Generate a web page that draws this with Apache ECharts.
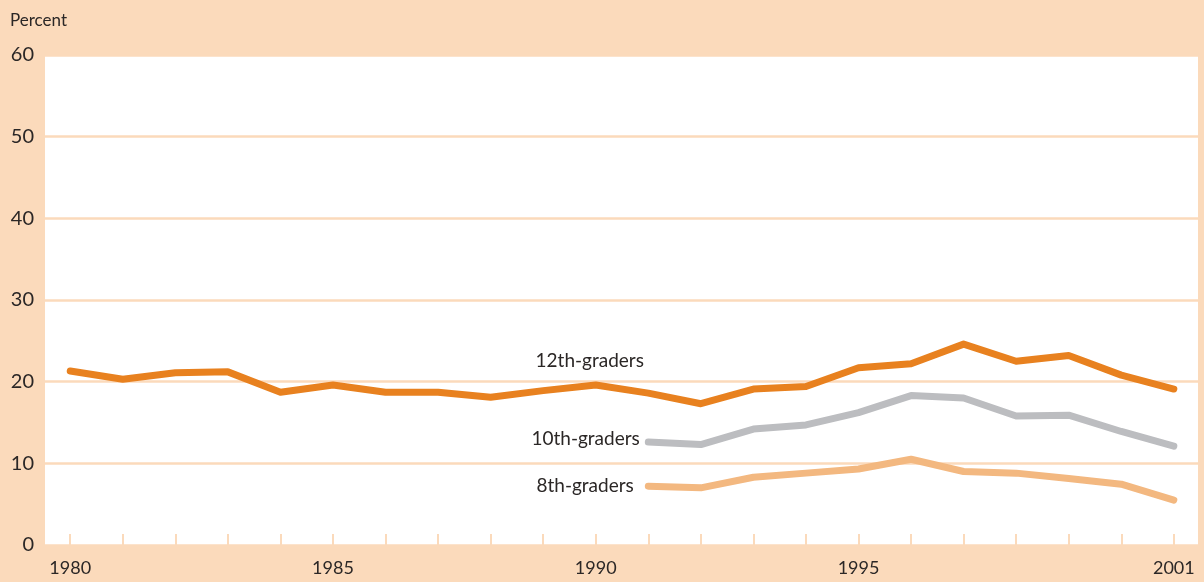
<!DOCTYPE html>
<html>
<head>
<meta charset="utf-8">
<script src="https://cdn.jsdelivr.net/npm/echarts@6/dist/echarts.min.js"></script>
<style>
  html, body { margin: 0; padding: 0; background: #FBDABB; }
  #chart { width: 1204px; height: 582px; }
</style>
</head>
<body>
<div id="chart"></div>
<script>
// Share of students by grade, 1980–2001 (percent)
const years = [1980,1981,1982,1983,1984,1985,1986,1987,1988,1989,1990,1991,1992,1993,1994,1995,1996,1997,1998,1999,2000,2001];
const grade12 = [21.3,20.3,21.1,21.2,18.7,19.6,18.7,18.7,18.1,18.9,19.6,18.6,17.3,19.1,19.4,21.7,22.2,24.6,22.5,23.2,20.8,19.1];
const years10 = [1991,1992,1993,1994,1995,1996,1997,1998,1999,2000,2001];
const grade10 = [12.6,12.3,14.2,14.7,16.2,18.3,18.0,15.8,15.9,13.9,12.1];
const years8 = [1991,1992,1993,1994,1995,1996,1997,1998,1999,2000,2001];
const grade8 = [7.2,7.0,8.3,8.8,9.3,10.5,9.0,8.8,8.15,7.45,5.5];
const xLabelYears = [1980,1985,1990,1995,2001];
const yTicks = [0,10,20,30,40,50,60];

const FONT = 'Lato, "Noto Sans", sans-serif';
const TEXT = '#2b2726';
const PEACH = '#FBDABB';

function pairs(xs, ys, labelIndex, labelOpt) {
  return xs.map((x, i) => {
    const item = { value: [x, ys[i]] };
    if (i === labelIndex) item.label = labelOpt;
    return item;
  });
}

const labelBase = { show: true, color: TEXT, fontFamily: FONT, fontSize: 19 };

// invisible point markers so the grade labels have an anchor
const hiddenSymbol = {
  symbol: 'circle', symbolSize: 1, showSymbol: true, showAllSymbol: true,
  itemStyle: { color: 'rgba(0,0,0,0)' }
};

const chart = echarts.init(document.getElementById('chart'), null, { renderer: 'canvas' });
chart.setOption({
  backgroundColor: PEACH,
  animation: false,
  title: {
    text: 'Percent', left: 5, top: 7,
    textStyle: { color: TEXT, fontFamily: FONT, fontSize: 17, fontWeight: 'normal' }
  },
  grid: { left: 45, right: 6, top: 55, bottom: 37, show: true, backgroundColor: '#ffffff', borderWidth: 0 },
  xAxis: {
    type: 'value', min: 1979.52, max: 2001.46,
    axisLine: { show: false },
    splitLine: { show: false },
    axisTick: { show: true, inside: true, length: 11, customValues: years, lineStyle: { color: PEACH, width: 2 } },
    axisLabel: { customValues: xLabelYears, color: TEXT, fontFamily: FONT, fontSize: 18, margin: 14, formatter: v => String(v) }
  },
  yAxis: {
    type: 'value', min: 0, max: 60, interval: 10,
    axisLine: { show: false },
    axisTick: { show: false },
    splitLine: { show: true, lineStyle: { color: PEACH, width: 2.5 } },
    axisLabel: { color: TEXT, fontFamily: FONT, fontSize: 20, margin: 11, formatter: v => yTicks.includes(v) ? String(v) : '' }
  },
  series: [
    Object.assign({
      name: '8th-graders', type: 'line',
      lineStyle: { color: '#F3B880', width: 7, cap: 'round', join: 'round' },
      label: { show: false },
      data: pairs(years8, grade8, 0, Object.assign({}, labelBase, { position: 'left', distance: 14, formatter: '8th-graders' }))
    }, hiddenSymbol),
    Object.assign({
      name: '10th-graders', type: 'line',
      lineStyle: { color: '#BCBDC0', width: 7, cap: 'round', join: 'round' },
      label: { show: false },
      data: pairs(years10, grade10, 0, Object.assign({}, labelBase, { position: 'left', distance: 8, offset: [0, -3], formatter: '10th-graders' }))
    }, hiddenSymbol),
    Object.assign({
      name: '12th-graders', type: 'line',
      lineStyle: { color: '#E8811F', width: 7, cap: 'round', join: 'round' },
      label: { show: false },
      data: pairs(years, grade12, 10, Object.assign({}, labelBase, { position: 'top', distance: 14, offset: [-6, 0], formatter: '12th-graders' }))
    }, hiddenSymbol)
  ]
});
</script>
</body>
</html>
